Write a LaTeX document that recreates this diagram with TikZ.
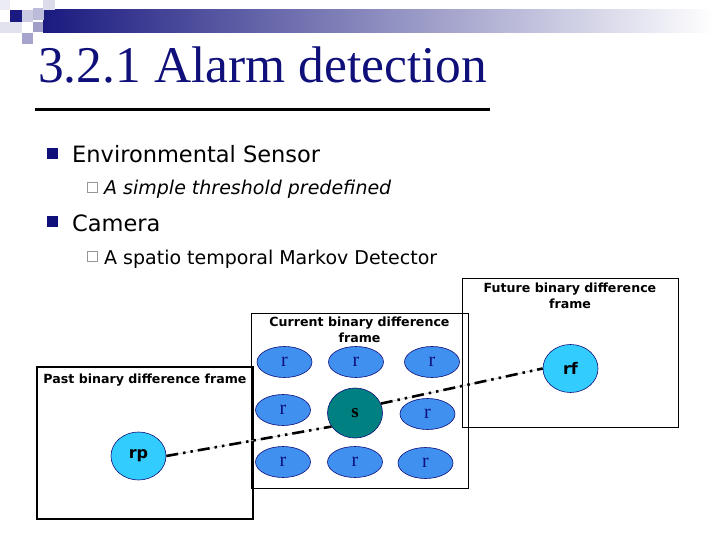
\documentclass[tikz,border=0pt]{standalone}
\usepackage{fontspec}
\setmainfont{Liberation Serif}
\setsansfont{DejaVu Sans}
\usepackage{xcolor}
\usetikzlibrary{positioning,shapes.geometric}
\definecolor{TitleNavy}{RGB}{16,16,122}
\definecolor{BarNavy}{RGB}{26,26,128}
\definecolor{CellBlue}{RGB}{64,144,240}
\definecolor{SiteTeal}{RGB}{0,128,128}
\definecolor{LinkCyan}{RGB}{51,204,255}
\definecolor{BoxGrey}{RGB}{150,150,150}

\begin{document}
\begin{tikzpicture}[x=1pt, y=-1pt, every node/.style={inner sep=0pt},
  cell/.style={ellipse, draw=TitleNavy, line width=0.6pt, fill=CellBlue, minimum width=55pt, minimum height=31pt, font=\fontsize{20}{20}\selectfont, text=TitleNavy},
  linknode/.style={ellipse, draw=TitleNavy, line width=0.6pt, fill=LinkCyan, minimum width=55pt, minimum height=48pt, font=\sffamily\bfseries\fontsize{16}{16}\selectfont},
  framebox/.style={draw, line width=0.8pt, minimum width=216pt},
  framelabel/.style={font=\sffamily\bfseries\fontsize{12.6}{16}\selectfont, align=center},
  link/.style={line width=2.6pt, dash pattern=on 12pt off 5pt on 2.5pt off 5pt on 2.5pt off 5pt, preaction={draw=gray!35, line width=0.7pt, solid}}]
\useasboundingbox (0,0) rectangle (720,540);

% header bar and squares
\shade[left color=BarNavy, right color=white] (43,10) rectangle (715,33);
\fill[TitleNavy!8] (0,0) rectangle (10,10);
\fill[TitleNavy!12] (0,22) rectangle (22,33);
\fill[BarNavy] (10,10) rectangle (22,22);
\fill[TitleNavy!22] (22,10) rectangle (33,22);
\fill[TitleNavy!28] (33,8) rectangle (44,20);
\fill[TitleNavy!15] (43,0) rectangle (55,10);
\fill[TitleNavy!40] (33,22) rectangle (43,32);
\fill[TitleNavy!38] (22,33) rectangle (33,44);

% title
\node[anchor=base west, font=\fontsize{51.5}{52}\selectfont, text=TitleNavy] (title) at (38,83) {3.2.1 Alarm detection};
\draw[line width=3pt] (35,110) -- (490,110);

% bullet list
\node[fill=TitleNavy, minimum size=11pt] (b1) at (52,154) {};
\node[anchor=base west, font=\sffamily\fontsize{22.5}{24}\selectfont] (env) at (72,163) {Environmental Sensor};
\node[draw=BoxGrey, line width=0.6pt, minimum size=10pt] (s1) at (92,187) {};
\node[anchor=base west, font=\sffamily\itshape\fontsize{19}{20}\selectfont] (thr) at (104,195) {A simple threshold predefined};
\node[fill=TitleNavy, minimum size=11pt] (b2) at (52,222) {};
\node[anchor=base west, font=\sffamily\fontsize{22.5}{24}\selectfont] (cam) at (72,231) {Camera};
\node[draw=BoxGrey, line width=0.6pt, minimum size=10pt] (s2) at (92,256) {};
\node[anchor=base west, font=\sffamily\fontsize{19}{20}\selectfont] (mrk) at (104,264) {A spatio temporal Markov Detector};

% frames
\node[framebox, line width=2.5pt, minimum height=152pt] (past) at (145,443) {};
\node[framebox, minimum width=217pt, minimum height=175pt] (current) at (359.5,400.5) {};
\node[framebox, minimum height=149pt] (future) at (570,352.5) {};
\node[framelabel, below=8pt of past.north] (pastlbl) {Past binary difference frame};
\node[framelabel, below=4pt of current.north] (curlbl) {Current binary difference\\frame};
\node[framelabel, below=5pt of future.north] (futlbl) {Future binary difference\\frame};

% neighbourhood
\node[cell] (r11) at (284.5,362) {r};
\node[cell] (r12) at (356,362) {r};
\node[cell] (r13) at (432,362) {r};
\node[cell] (r21) at (283,410) {r};
\node[cell] (r23) at (427.5,414) {r};
\node[cell] (r31) at (283,462) {r};
\node[cell] (r32) at (355,462) {r};
\node[cell] (r33) at (425.5,463) {r};
\node[ellipse, draw=TitleNavy, line width=0.6pt, fill=SiteTeal, minimum width=55pt, minimum height=50pt, font=\bfseries\fontsize{19}{19}\selectfont] (s) at (355,413) {s};
\node[linknode] (rp) at (138.5,456) {rp};
\node[linknode] (rf) at (570.5,368.5) {rf};

\draw[link] (rp.east) -- (s.210);
\draw[link] (s.20) -- (rf.west);
\end{tikzpicture}
\end{document}
